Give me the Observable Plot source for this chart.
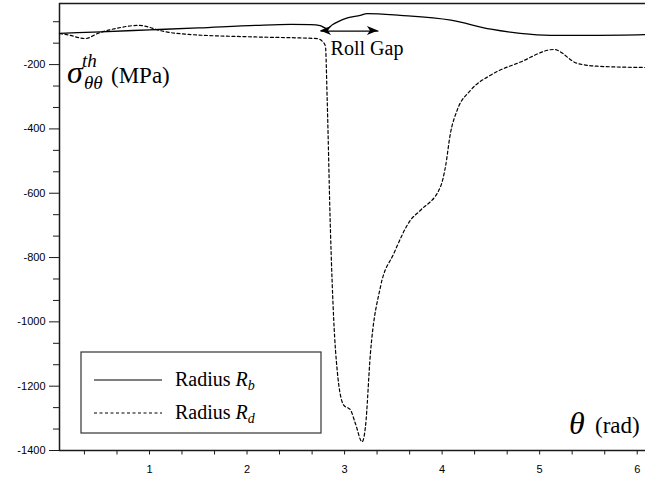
<!DOCTYPE html>
<html><head><meta charset="utf-8">
<script src="https://cdn.jsdelivr.net/npm/d3@7"></script>
<script src="https://cdn.jsdelivr.net/npm/@observablehq/plot@0.6"></script>
<style>
body{margin:0;background:#fff;}
#chart svg{display:block;}
#chart svg text.serif, #chart svg text.serif tspan { font-family: "Liberation Serif", "DejaVu Serif", "Times New Roman", serif !important; text-anchor: start !important; }
</style>
</head><body><div id="chart"></div>
<script>
// Radius R_b (solid)
const thetaB = [0.077,0.5,1.0,1.5,2.09,2.45,2.65,2.75,2.82,2.875,2.93,3.03,3.16,3.23,3.57,4.09,4.5,4.8,5.11,5.6,6.085];
const sigmaB = [-103,-98,-92,-86,-78,-75,-76,-79,-88,-76,-67,-55,-47,-41.5,-47,-62,-90,-103,-109,-109,-107];
// Radius R_d (dashed)
const thetaD = [0.077,0.138,0.343,0.477,0.651,0.887,0.989,1.092,1.40,2.086,2.719,2.77,2.804,2.821,2.855,2.889,2.924,2.991,3.060,3.111,3.18,3.214,3.265,3.368,3.504,3.675,3.778,3.983,4.034,4.085,4.154,4.291,4.496,4.803,5.145,5.384,5.589,6.085];
const sigmaD = [-104,-106,-119,-102,-88,-78,-83,-93,-106,-114,-119,-127,-143,-301,-715,-995,-1150,-1259,-1274,-1316,-1373,-1326,-1098,-891,-788,-684,-653,-580,-518,-414,-342,-280,-233,-192,-153,-196,-205,-209];

const yMajorTicks = [-200,-400,-600,-800,-1000,-1200,-1400];
const yMinorTicks = [-66.67,-133.33,-266.67,-333.33,-466.67,-533.33,-666.67,-733.33,-866.67,-933.33,-1066.67,-1133.33,-1266.67,-1333.33];
const xMajorTicks = [1,2,3,4,5,6];
const xMinorTicks = [0.333,0.667,1.333,1.667,2.333,2.667,3.333,3.667,4.333,4.667,5.333,5.667];
const seriesLabels = ["Radius ", "Radius "];
const seriesSubs = ["b", "d"];
const rollGap = {x1: 2.753, x2: 3.347, y: -95.6, label: "Roll Gap"};

const dataB = thetaB.map((t,i)=>({theta:t, s:sigmaB[i]}));
const dataD = thetaD.map((t,i)=>({theta:t, s:sigmaD[i]}));

const axisColor = "#1a1a1a";
const tickFont = "Liberation Sans, Arial, sans-serif";

const chart = Plot.plot({
  width: 645, height: 479,
  marginLeft: 59, marginRight: 0, marginTop: 3, marginBottom: 29,
  style: {fontFamily: tickFont, fontSize: "11px", color: "#000", background: "#fff"},
  x: {domain: [0.0774, 6.085]},
  y: {domain: [-1400, -10]},
  marks: [
    Plot.axisY({ticks: yMajorTicks, tickSize: 10, tickPadding: 4, tickFormat: d => String(d), label: null, fontSize: 11, stroke: axisColor, fill: "#000"}),
    Plot.axisY({ticks: yMinorTicks, tickSize: 6, text: null, label: null, stroke: axisColor}),
    Plot.axisX({ticks: xMajorTicks, tickSize: 4.5, tickPadding: 10, tickFormat: d => String(d), label: null, fontSize: 11, stroke: axisColor, fill: "#000"}),
    Plot.axisX({ticks: xMinorTicks, tickSize: 4.5, text: null, label: null, stroke: axisColor}),
    Plot.ruleX([0.0774], {stroke: axisColor, strokeWidth: 1.5}),
    Plot.ruleY([-1400], {stroke: axisColor, strokeWidth: 1.5}),
    Plot.ruleY([-10], {stroke: axisColor, strokeWidth: 1.5}),
    Plot.line(dataB, {x: "theta", y: "s", stroke: "#000", strokeWidth: 1.3, curve: "monotone-x"}),
    Plot.line(dataD, {x: "theta", y: "s", stroke: "#000", strokeWidth: 1.2, strokeDasharray: "3,2.5", curve: "monotone-x"}),
    Plot.link([rollGap], {x1: "x1", x2: "x2", y1: "y", y2: "y", stroke: "#000", strokeWidth: 1.3})
  ]
});
document.getElementById("chart").appendChild(chart);

const svg = d3.select(chart);
const sx = chart.scale("x"), sy = chart.scale("y");

function txt(sel) {
  return sel.append("text").attr("class", "serif")
    .attr("font-family", "Liberation Serif, DejaVu Serif, serif").attr("text-anchor", "start").attr("fill", "#000");
}

// Filled arrowheads for roll gap
const ay = sy.apply(rollGap.y), ax1 = sx.apply(rollGap.x1), ax2 = sx.apply(rollGap.x2);
svg.append("path").attr("d", `M${ax1},${ay} l11,-4.5 l-3,4.5 l3,4.5 z`).attr("fill", "#000");
svg.append("path").attr("d", `M${ax2},${ay} l-11,-4.5 l3,4.5 l-3,4.5 z`).attr("fill", "#000");
txt(svg).attr("x", sx.apply(2.862)).attr("y", ay + 24.5).attr("font-size", 20).text(rollGap.label);

// Y axis label
const yl = txt(svg);
yl.append("tspan").attr("x", 67).attr("y", 83).attr("font-size", 32).attr("font-style", "italic").text("σ");
yl.append("tspan").attr("x", 82).attr("y", 67).attr("font-size", 19).attr("font-style", "italic").text("th");
yl.append("tspan").attr("x", 84).attr("y", 89).attr("font-size", 19).attr("font-style", "italic").text("θθ");
yl.append("tspan").attr("x", 111).attr("y", 83).attr("font-size", 23).text("(MPa)");

// X axis label
const xl = txt(svg);
xl.append("tspan").attr("x", 569).attr("y", 434).attr("font-size", 32).attr("font-style", "italic").text("θ");
xl.append("tspan").attr("x", 595).attr("y", 433).attr("font-size", 23).text("(rad)");

// Legend
const lg = svg.append("g");
lg.append("rect").attr("x", 81).attr("y", 352).attr("width", 240).attr("height", 81)
  .attr("fill", "#fff").attr("stroke", "#333").attr("stroke-width", 1.2);
const rows = [{y: 380, dash: null}, {y: 413, dash: "3,2.5"}];
rows.forEach((r, i) => {
  const ln = lg.append("line").attr("x1", 94).attr("x2", 162).attr("y1", r.y).attr("y2", r.y)
    .attr("stroke", "#000").attr("stroke-width", 1.2);
  if (r.dash) ln.attr("stroke-dasharray", r.dash);
  const t = txt(lg).attr("x", 175).attr("y", r.y + 6).attr("font-size", 20);
  t.append("tspan").text(seriesLabels[i]);
  t.append("tspan").attr("font-style", "italic").text("R");
  t.append("tspan").attr("font-style", "italic").attr("font-size", 14).attr("dy", 4).text(seriesSubs[i]);
});
</script>
</body></html>
